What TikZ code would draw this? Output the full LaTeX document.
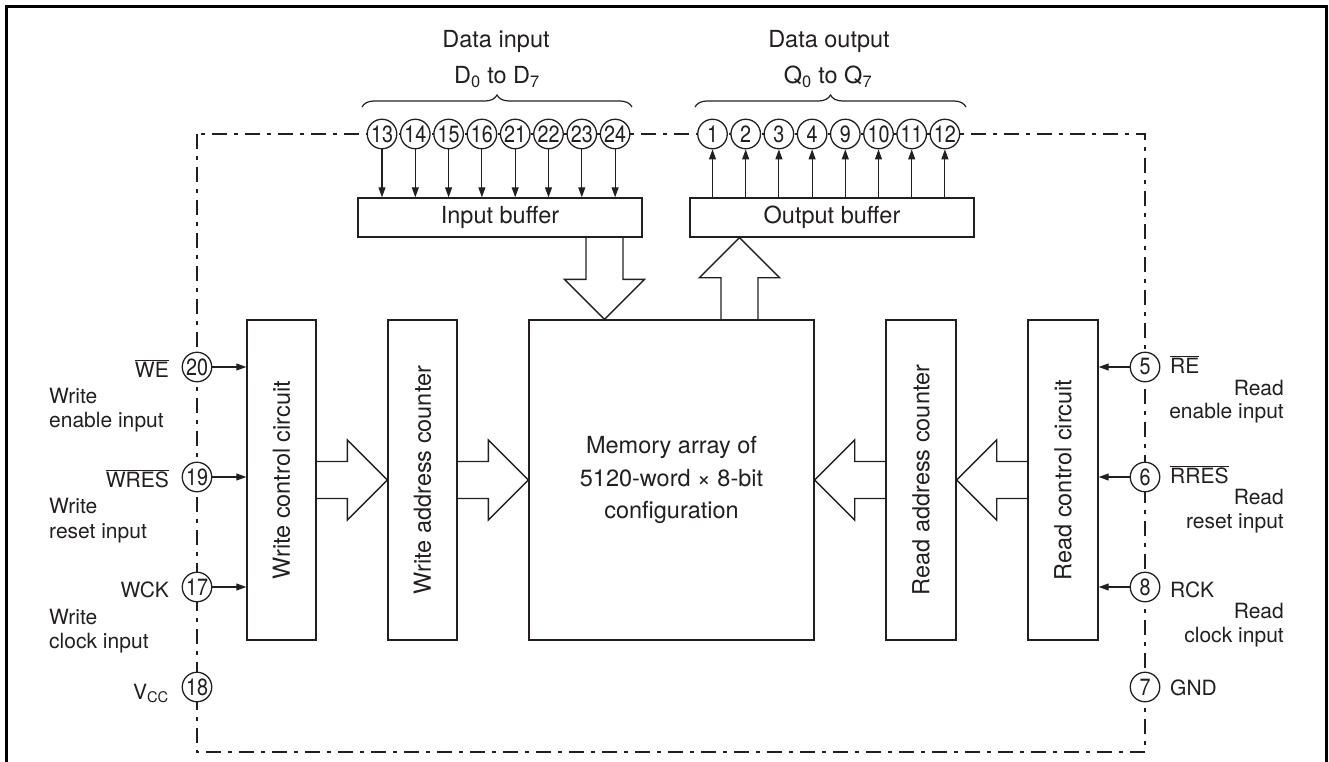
\documentclass[tikz,border=0pt]{standalone}
\usepackage{graphicx}
\usepackage{fontspec}
\setmainfont{TeX Gyre Heros}
\newfontfamily\pinfam[FakeStretch=0.84]{TeX Gyre Heros}
\usetikzlibrary{arrows.meta,calc,decorations.pathreplacing}
\definecolor{ink}{RGB}{35,31,32}
\newcommand\mainfs{\fontsize{23.5}{28}\selectfont}
\newcommand\memfs{\fontsize{23.5}{32.5}\selectfont}
\newcommand\sidefs{\fontsize{21}{25}\selectfont}
\newcommand\pinfs{\pinfam\fontsize{23.5}{26}\selectfont}
\newcommand\fatarrow[2]{%
  \coordinate (fa-h) at ($(#2)!40pt!(#1)$);
  \draw[fat] ($(#1)!18.5pt!90:(#2)$) -- ($(fa-h)!18.5pt!90:(#2)$) -- ($(fa-h)!40pt!90:(#2)$)
    -- (#2) -- ($(fa-h)!40pt!-90:(#2)$) -- ($(fa-h)!18.5pt!-90:(#2)$) -- ($(#1)!18.5pt!-90:(#2)$);}
\begin{document}
\begin{tikzpicture}[x=1pt,y=-1pt,
  box/.style={draw=ink, line width=1.4pt, inner sep=0pt, font=\mainfs, text=ink},
  pin/.style={draw=ink, fill=white, circle, minimum size=29.5pt, inner sep=0pt, line width=1.3pt, font=\pinfs, text=ink},
  lab/.style={inner sep=0pt, font=\mainfs, text=ink},
  slab/.style={inner sep=0pt, font=\sidefs, text=ink},
  arr/.style={draw=ink, line width=1.1pt, -{Triangle[length=10pt,width=7pt]}},
  fat/.style={draw=ink, line width=1.4pt, line join=miter},
  frame/.style={draw=black, line width=3pt, line join=miter},
  dashdot/.style={draw=ink, line width=1.3pt, dash pattern=on 15pt off 7pt on 4pt off 7pt},
  brc/.style={draw=ink, line width=1.2pt, decorate, decoration={brace, amplitude=12pt}}]
\useasboundingbox (0,0) rectangle (1329,762);
% outer frame
\draw[frame] (6.5,762) -- (6.5,7) -- (1326.5,7) -- (1326.5,762);
% package outline
\draw[dashdot] (197,134) rectangle (1145,752);
% braces and titles
\draw[brc] (362,107) -- (632,107);
\draw[brc] (695,107) -- (966,107);
\node[lab, anchor=base] (tin) at (496,48) {Data input};
\node[lab, anchor=base] (tinr) at (497,84) {D\textsubscript{0} to D\textsubscript{7}};
\node[lab, anchor=base] (tout) at (829,48) {Data output};
\node[lab, anchor=base] (toutr) at (828,84) {Q\textsubscript{0} to Q\textsubscript{7}};
% blocks
\node[box, minimum width=284pt, minimum height=39pt] (ibuf) at (500,217.5) {Input buffer};
\node[box, minimum width=284pt, minimum height=39pt] (obuf) at (832,217.5) {Output buffer};
\node[box, minimum width=69pt, minimum height=320pt] (wcc) at (281.5,480) {\rotatebox{90}{Write control circuit}};
\node[box, minimum width=69pt, minimum height=320pt] (wac) at (422.5,480) {\rotatebox{90}{Write address counter}};
\node[box, minimum width=285pt, minimum height=320pt, align=center, font=\memfs] (mem) at (671.5,480) {Memory array of\\5120-word × 8-bit\\configuration};
\node[box, minimum width=70pt, minimum height=320pt] (rac) at (921,480) {\rotatebox{90}{Read address counter}};
\node[box, minimum width=70pt, minimum height=320pt] (rcc) at (1063,480) {\rotatebox{90}{Read control circuit}};
% data pins
\foreach \n [count=\i from 0] in {13,14,15,16,21,22,23,24} {
  \node[pin] (p\n) at ({382+33.3*\i},134) {\n};
  \draw[arr] (p\n.south) -- (p\n.south |- ibuf.north);
}
\foreach \n [count=\i from 0] in {1,2,3,4,9,10,11,12} {
  \node[pin] (p\n) at ({712.5+33.2*\i},134) {\n};
  \draw[arr] (p\n.south |- obuf.north) -- (p\n.south);
}
% control pins, left
\node[pin] (p20) at (197,367) {20};
\node[pin] (p19) at (197,477) {19};
\node[pin] (p17) at (197,587) {17};
\node[pin] (p18) at (197,687) {18};
\foreach \n in {20,19,17} \draw[arr] (p\n.east) -- (p\n.east -| wcc.west);
% control pins, right
\node[pin] (p5) at (1145,367) {5};
\node[pin] (p6) at (1145,477) {6};
\node[pin] (p8) at (1145,587) {8};
\node[pin] (p7) at (1145,687) {7};
\foreach \n in {5,6,8} \draw[arr] (p\n.west) -- (p\n.west -| rcc.east);
% wide bus arrows
\coordinate (dx) at (604.5,0);
\coordinate (ux) at (739.5,0);
\coordinate (da1) at (ibuf.south -| dx);
\coordinate (da2) at (mem.north -| dx);
\coordinate (ua1) at (mem.north -| ux);
\coordinate (ua2) at (obuf.south -| ux);
\fatarrow{da1}{da2}
\fatarrow{ua1}{ua2}
\fatarrow{wcc.east}{wac.west}
\fatarrow{wac.east}{mem.west}
\fatarrow{rcc.west}{rac.east}
\fatarrow{rac.west}{mem.east}
% left labels
\node[slab, anchor=base east] (lwe) at (169,377) {$\overline{\mbox{WE}}$};
\node[slab, anchor=base west] (lwe1) at (49,403) {Write};
\node[slab, anchor=base west] (lwe2) at (49,427) {enable input};
\node[slab, anchor=base east] (lwr) at (169,487) {$\overline{\mbox{WRES}}$};
\node[slab, anchor=base west] (lwr1) at (49,513) {Write};
\node[slab, anchor=base west] (lwr2) at (49,538) {reset input};
\node[slab, anchor=base east] (lwc) at (169,597) {WCK};
\node[slab, anchor=base west] (lwc1) at (49,624) {Write};
\node[slab, anchor=base west] (lwc2) at (49,648) {clock input};
\node[slab, anchor=base east] (lvcc) at (169,699) {V\textsubscript{CC}};
% right labels
\node[slab, anchor=base west] (lre) at (1170,373) {$\overline{\mbox{RE}}$};
\node[slab, anchor=base east] (lre1) at (1284,395) {Read};
\node[slab, anchor=base east] (lre2) at (1284,418) {enable input};
\node[slab, anchor=base west] (lrr) at (1170,483) {$\overline{\mbox{RRES}}$};
\node[slab, anchor=base east] (lrr1) at (1284,504) {Read};
\node[slab, anchor=base east] (lrr2) at (1284,528) {reset input};
\node[slab, anchor=base west] (lrc) at (1170,597) {RCK};
\node[slab, anchor=base east] (lrc1) at (1284,618) {Read};
\node[slab, anchor=base east] (lrc2) at (1284,642) {clock input};
\node[slab, anchor=base west] (lgnd) at (1170,695) {GND};
\end{tikzpicture}
\end{document}
